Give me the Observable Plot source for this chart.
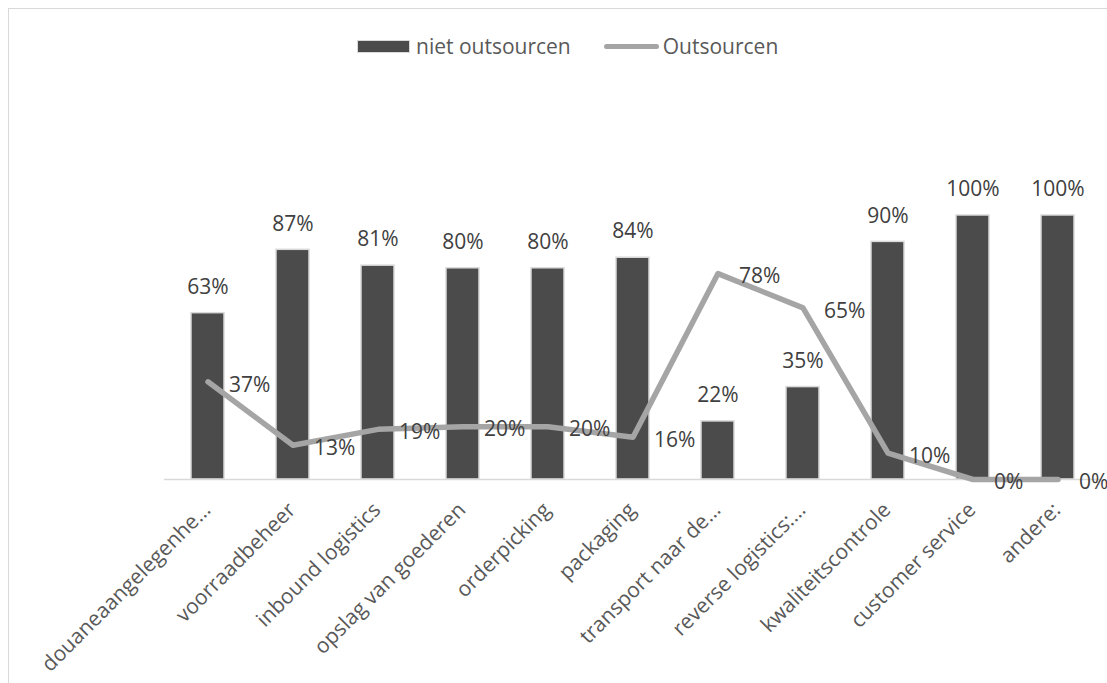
<!DOCTYPE html>
<html>
<head>
<meta charset="utf-8">
<script src="https://cdn.jsdelivr.net/npm/d3@7"></script>
<script src="https://cdn.jsdelivr.net/npm/@observablehq/plot@0.6"></script>
<style>
  html, body { margin: 0; padding: 0; background: #fff; }
  #wrap { position: relative; width: 1107px; height: 683px; overflow: hidden; font-family: "Open Sans", sans-serif; }
  #frame { position: absolute; left: 8px; top: 8px; width: 1200px; height: 800px; border: 1.5px solid #d9d9d9; box-sizing: border-box; }
  #chart { position: absolute; left: 0; top: 0; }
  #legend { position: absolute; top: 32px; left: 357px; display: flex; align-items: center; color: #595959; font-size: 21px; white-space: nowrap; }
  #legend span { flex-shrink: 0; }
  .sw-bar { display: inline-block; width: 51px; height: 11px; background: #4b4b4b; border: 1.5px solid #d9d9d9; margin-right: 6px; }
  .sw-line { display: inline-block; width: 55px; height: 5px; background: #a5a5a5; border-radius: 3px; margin-left: 33px; margin-right: 4px; }
</style>
</head>
<body>
<div id="wrap">
  <div id="frame"></div>
  <div id="chart"></div>
  <div id="legend"><span class="sw-bar"></span><span>niet outsourcen</span><span class="sw-line"></span><span>Outsourcen</span></div>
</div>
<script>
const categories = ["douaneaangelegenhe…", "voorraadbeheer", "inbound logistics", "opslag van goederen", "orderpicking", "packaging", "transport naar de…", "reverse logistics:…", "kwaliteitscontrole", "customer service", "andere:"];
const nietOutsourcen = [0.63, 0.87, 0.81, 0.80, 0.80, 0.84, 0.22, 0.35, 0.90, 1.00, 1.00];
const outsourcen = [0.37, 0.13, 0.19, 0.20, 0.20, 0.16, 0.78, 0.65, 0.10, 0.00, 0.00];

const data = categories.map((c, i) => ({cat: c, niet: nietOutsourcen[i], out: outsourcen[i]}));
const pct = v => Math.round(v * 100) + "%";

const chart = Plot.plot({
  width: 1107,
  height: 683,
  marginLeft: 164,
  marginRight: 6,
  marginTop: 215,
  marginBottom: 204,
  style: {fontFamily: "'Open Sans', sans-serif", background: "transparent", overflow: "visible"},
  x: {domain: categories, paddingInner: 0.61, paddingOuter: 0.305, label: null},
  y: {domain: [0, 1], axis: null},
  marks: [
    Plot.barY(data, {x: "cat", y: "niet", fill: "#4b4b4b", stroke: "#d9d9d9", strokeWidth: 1.5}),
    Plot.ruleY([0], {stroke: "#d9d9d9", strokeWidth: 1.5}),
    Plot.line(data, {x: "cat", y: "out", stroke: "#a5a5a5", strokeWidth: 5.5, strokeLinejoin: "round", strokeLinecap: "round"}),
    Plot.text(data, {x: "cat", y: "niet", text: d => pct(d.niet), dy: -26, fill: "#404040", fontSize: 21}),
    Plot.text(data, {x: "cat", y: "out", text: d => pct(d.out), dx: 21, dy: 3, textAnchor: "start", fill: "#404040", fontSize: 21}),
    Plot.axisX({tickRotate: -45, tickSize: 0, tickPadding: 27, dx: -1, fontSize: 21, fill: "#595959", label: null})
  ]
});
document.getElementById("chart").appendChild(chart);
</script>
</body>
</html>
